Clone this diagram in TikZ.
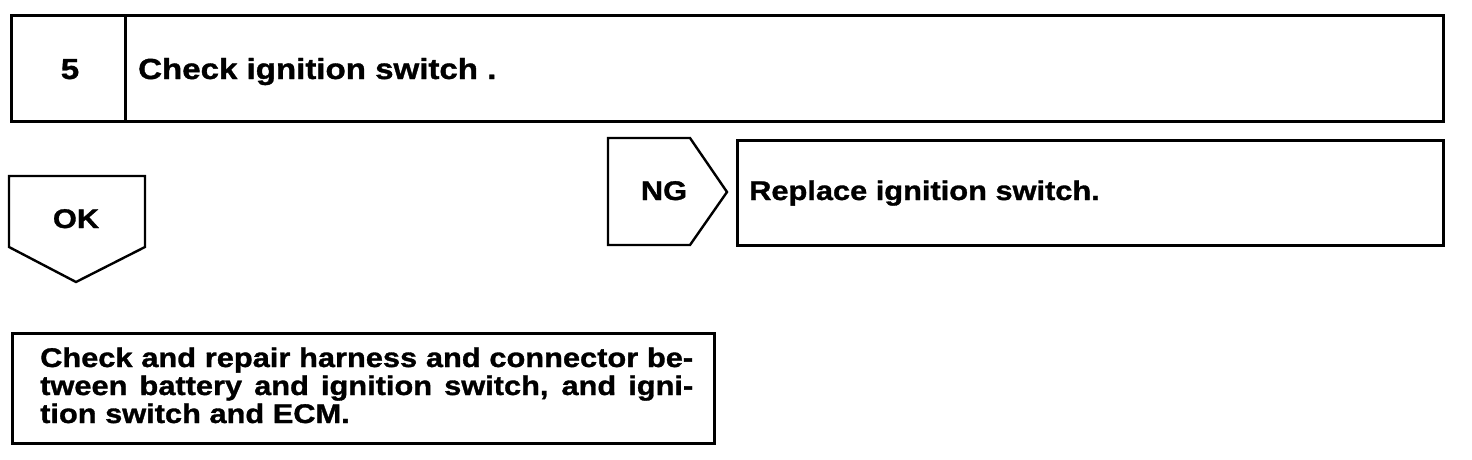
\documentclass[tikz,border=0pt]{standalone}
\usepackage{fontspec}
\newfontfamily\hv{Liberation Sans}[FakeStretch=1.14, BoldFeatures={FakeBold=1.2}]
\begin{document}
\begin{tikzpicture}[x=1pt,y=-1pt,
  box/.style={draw=black, line width=3pt, line join=miter},
  tag/.style={draw=black, line width=2.4pt, line join=miter},
  big/.style={font=\hv\bfseries\fontsize{29}{30}\selectfont, inner sep=0pt},
  mid/.style={font=\hv\bfseries\fontsize{27}{30}\selectfont, inner sep=0pt},
  small/.style={font=\hv\bfseries\fontsize{27}{28}\selectfont, inner sep=0pt, align=left}]
\useasboundingbox (0,0) rectangle (1472,460);
% step header
\draw[box] (11,16) rectangle (1443,121);
\draw[box] (125,16) -- (125,121);
\node[big, anchor=base] (num) at (70,79) {5};
\node[big, anchor=base west] (title) at (138,79) {Check ignition switch .};
% OK tag
\draw[tag] (9,176) -- (145,176) -- (145,247) -- (76,282) -- (9,247) -- cycle;
\node[mid, anchor=base] (ok) at (76,228) {OK};
% NG tag
\draw[tag] (608,138) -- (690,138) -- (727,192) -- (690,245) -- (608,245) -- cycle;
\node[mid, anchor=base] (ng) at (664,200) {NG};
% NG result
\draw[box] (737,140) rectangle (1443,245);
\node[mid, anchor=base west] (replace) at (749,200) {Replace ignition switch.};
% OK result
\draw[box] (12,333) rectangle (714,443);
\node[small, anchor=base west] (repair) at (40,423) {\makebox[653pt][s]{Check and repair harness and connector be-}\\\makebox[653pt][s]{tween battery and ignition switch, and igni-}\\tion switch and ECM.};
\end{tikzpicture}
\end{document}
